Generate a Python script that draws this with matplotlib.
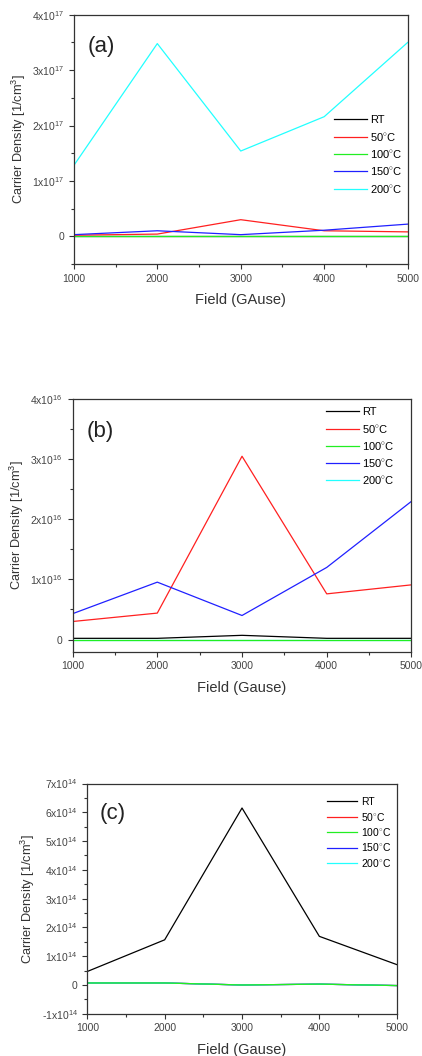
import numpy as np
import matplotlib.pyplot as plt
from matplotlib.ticker import MultipleLocator, FixedLocator, FixedFormatter

plt.rcParams["font.family"] = ["Liberation Sans", "DejaVu Sans"]
plt.rcParams["mathtext.fontset"] = "custom"
plt.rcParams["mathtext.rm"] = "Liberation Sans"

# ==========================================
# DATA
# ==========================================

field = [1000, 2000, 3000, 4000, 5000]
series_names = ["RT", "50$^{\\circ}$C", "100$^{\\circ}$C", "150$^{\\circ}$C", "200$^{\\circ}$C"]
colors = ["#000000", "#ff2020", "#22ee22", "#2020ff", "#22ffff"]

# panel (a), units of 1e17 / cm^3
a_rt = [0.0, 0.0, 0.0, 0.0, 0.0]
a_50 = [0.02, 0.04, 0.30, 0.10, 0.08]
a_100 = [0.0, 0.0, 0.0, 0.0, 0.0]
a_150 = [0.03, 0.10, 0.03, 0.11, 0.22]
a_200 = [1.28, 3.48, 1.54, 2.16, 3.50]

# panel (b), units of 1e16 / cm^3
b_rt = [0.02, 0.02, 0.07, 0.02, 0.02]
b_50 = [0.30, 0.44, 3.05, 0.76, 0.91]
b_100 = [0.0, 0.0, 0.0, 0.0, 0.0]
b_150 = [0.43, 0.955, 0.40, 1.20, 2.30]
b_200 = [0.0, 0.0, 0.0, 0.0, 0.0]

# panel (c), units of 1e14 / cm^3
c_rt = [0.47, 1.57, 6.15, 1.69, 0.71]
c_50 = [0.07, 0.07, 0.0, 0.03, -0.02]
c_100 = [0.07, 0.07, 0.0, 0.03, -0.02]
c_150 = [0.07, 0.07, 0.0, 0.03, -0.02]
c_200 = [0.07, 0.07, 0.0, 0.03, -0.02]

panels = [
    dict(tag="(a)", exp=17, data=[a_rt, a_50, a_100, a_150, a_200],
         order=[0, 2, 1, 3, 4], ylim=(-0.5, 4), yticks=[0, 1, 2, 3, 4],
         xlabel="Field (GAuse)", rect=[0.175, 0.75, 0.791, 0.236],
         legend_xy=(331, 112), legend_fs=8, legend_sp=0.48),
    dict(tag="(b)", exp=16, data=[b_rt, b_50, b_100, b_150, b_200],
         order=[4, 0, 2, 1, 3], ylim=(-0.2, 4), yticks=[0, 1, 2, 3, 4],
         xlabel="Field (Gause)", rect=[0.172, 0.383, 0.803, 0.239],
         legend_xy=(323, 404), legend_fs=8, legend_sp=0.47),
    dict(tag="(c)", exp=14, data=[c_rt, c_50, c_100, c_150, c_200],
         order=[1, 3, 4, 2, 0], ylim=(-1, 7), yticks=[-1, 0, 1, 2, 3, 4, 5, 6, 7],
         xlabel="Field (Gause)", rect=[0.207, 0.040, 0.733, 0.218],
         legend_xy=(324, 794), legend_fs=7.5, legend_sp=0.33),
]

# ==========================================
# PLOT
# ==========================================

W, H = 422, 1056
fig = plt.figure(figsize=(W / 100, H / 100), dpi=100)

for p in panels:
    ax = fig.add_axes(p["rect"])
    lines = {}
    for i in p["order"]:
        (ln,) = ax.plot(field, p["data"][i], color=colors[i], linewidth=0.9,
                        label=series_names[i])
        lines[i] = ln

    ax.set_xlim(1000, 5000)
    ax.set_ylim(*p["ylim"])
    ax.xaxis.set_major_locator(MultipleLocator(1000))
    ax.xaxis.set_minor_locator(MultipleLocator(500))
    ax.yaxis.set_major_locator(FixedLocator(p["yticks"]))
    ax.yaxis.set_minor_locator(MultipleLocator(0.5))

    labels = []
    for v in p["yticks"]:
        if v == 0:
            labels.append("0")
        else:
            labels.append(f"{v}x10$^{{{p['exp']}}}$")
    ax.yaxis.set_major_formatter(FixedFormatter(labels))

    ax.tick_params(axis="both", which="both", direction="out", labelsize=7.5,
                   colors="#333333", labelcolor="#444444")
    ax.tick_params(which="major", length=3.5, width=0.8)
    ax.tick_params(which="minor", length=2, width=0.8)
    for s in ax.spines.values():
        s.set_linewidth(0.9)
        s.set_color("#333333")

    ax.set_xlabel(p["xlabel"], fontsize=10.5, color="#333333", labelpad=7)
    ax.set_ylabel("Carrier Density [1/cm$^3$]", fontsize=9.2, color="#333333",
                  labelpad=3)

    ax.text(0.04, 0.915, p["tag"], transform=ax.transAxes, fontsize=16,
            va="top", ha="left", color="#222222")

    lx, ly = p["legend_xy"]
    ax.legend([lines[i] for i in range(5)], series_names, loc="upper left",
              bbox_to_anchor=(lx / W, 1 - ly / H),
              bbox_transform=fig.transFigure, frameon=False,
              fontsize=p["legend_fs"], handlelength=2.9, handletextpad=0.35,
              labelspacing=p["legend_sp"], borderaxespad=0, borderpad=0.3)

plt.savefig("out.png", dpi=100)
